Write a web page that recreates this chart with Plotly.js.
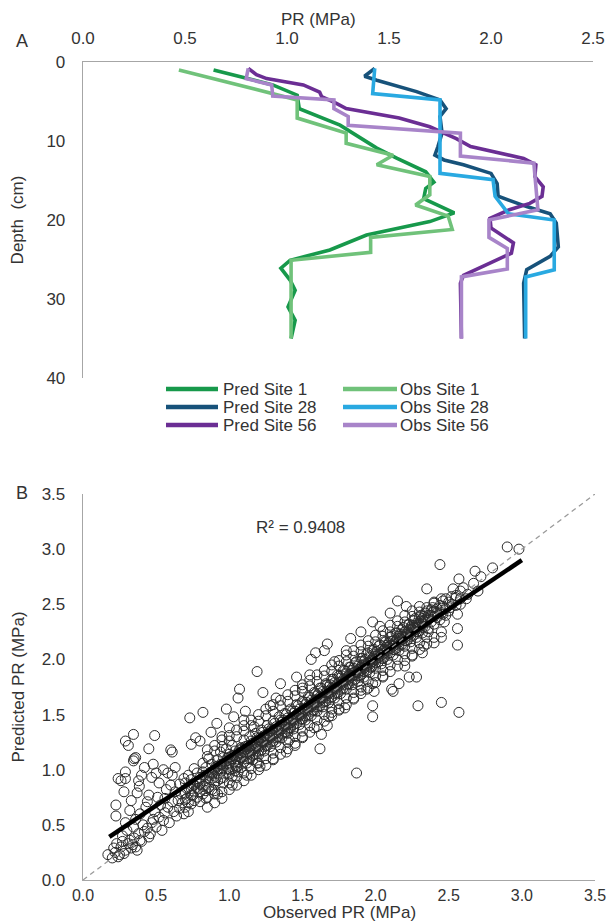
<!DOCTYPE html>
<html><head><meta charset="utf-8">
<script src="https://cdn.plot.ly/plotly-3.0.1.min.js"></script>
<style>html,body{margin:0;padding:0;background:#fff}#chart{width:610px;height:922px}</style>
</head><body><div id="chart"></div>
<script>
// ---------- Panel A : PR profiles (x = PR MPa, y = depth cm) ----------
const predSite1PR    = [0.64,0.93,1.05,1.06,1.26,1.44,1.54,1.68,1.72,1.68,1.67,1.82,1.70,1.39,1.21,1.015,0.97,1.015,1.04,1.005,1.04,1.02];
const predSite1Depth = [1,2.9,4.2,5.9,8.0,10.9,12.2,13.9,15.2,16.0,17.3,19.1,20.2,21.9,23.8,25.1,26.1,27.6,28.9,31,32.7,35];
const obsSite1PR     = [0.47,1.05,1.05,1.29,1.29,1.52,1.44,1.70,1.70,1.63,1.79,1.81,1.41,1.41,1.02,1.02];
const obsSite1Depth  = [1,4.8,7.1,9.0,10.3,11.8,13.0,14.5,16.8,18.1,19.5,21.2,22.2,24.1,25.1,35];
const predSite28PR    = [1.43,1.38,1.44,1.635,1.75,1.78,1.75,1.76,1.74,1.725,1.77,1.865,2.0,2.03,2.035,2.175,2.29,2.32,2.33,2.29,2.175,2.16,2.165];
const predSite28Depth = [0.8,1.8,2.3,3.75,4.8,5.9,6.9,9.0,10.7,11.8,12.4,13.0,14.1,15.4,17.0,18.3,19.2,20.4,23.4,24.6,26.3,28,35];
const obsSite28PR     = [1.43,1.42,1.75,1.75,2.01,2.02,2.085,2.31,2.31,2.17,2.17];
const obsSite28Depth  = [0.8,4.0,4.8,14.1,14.9,17.0,19.2,20.0,26.3,27.2,35];
const predSite56PR    = [0.81,0.85,0.90,1.08,1.16,1.17,1.24,1.29,1.55,1.70,1.83,1.90,2.16,2.22,2.215,2.256,2.25,2.19,2.09,1.995,2.00,2.11,2.10,1.995,1.865,1.85,1.855];
const predSite56Depth = [0.8,1.6,2.1,2.9,3.8,4.4,5.2,5.9,7.1,8.2,9.7,10.7,12.2,13.0,14.5,15.8,17.0,17.9,18.7,19.8,21.0,22.9,24.2,25.5,27.0,28,35];
const obsSite56PR     = [0.81,0.80,0.925,0.93,1.23,1.23,1.30,1.30,1.85,1.85,2.21,2.23,1.99,1.99,2.08,2.08,1.855,1.855];
const obsSite56Depth  = [0.8,2.1,2.9,4.3,4.8,5.9,6.9,8.0,9.0,11.9,12.8,18.7,20.0,22.2,23.6,26.2,27.2,35];

const seriesNames  = ['Pred Site 1','Obs Site 1','Pred Site 28','Obs Site 28','Pred Site 56','Obs Site 56'];
const seriesColors = ['#17994b','#70c27a','#17527a','#29a9e1','#6b2e94','#a884c9'];

const prTicksA    = [0,0.5,1,1.5,2,2.5];
const depthTicks  = [0,10,20,30,40];

// ---------- Panel B : observed vs predicted [observed, predicted] ----------
const lowPoints = [
[0.17,0.23],[0.24,0.21],[0.29,0.27],[0.37,0.27],[0.21,0.29],[0.27,0.35],[0.22,0.25],[0.26,0.30],[0.31,0.33],[0.33,0.29],[0.35,0.38],[0.38,0.42],[0.27,0.40],[0.30,0.45],[0.25,0.23],[0.32,0.36],[0.20,0.20],[0.23,0.33],[0.28,0.24],[0.34,0.32],[0.36,0.30],[0.39,0.36],
[0.225,0.58],[0.225,0.68],[0.24,0.92],[0.29,0.92],[0.29,0.98],[0.29,1.26],[0.345,1.32],[0.36,1.11],[0.345,1.08],[0.385,0.85],[0.37,0.79],[0.45,1.19],[0.49,1.31],[0.48,1.05],[0.50,0.97],[0.45,0.77],[0.44,0.71],[0.32,0.63],[0.29,0.52],[0.345,0.48],[0.42,0.44],[0.40,0.35],[0.45,0.39],[0.50,0.48],[0.48,0.55],[0.56,0.61],[0.58,0.97],[0.61,0.95],[0.60,1.18],[0.61,1.16],[0.69,0.92],[0.66,0.87],[0.64,0.58],[0.66,0.65],[0.56,0.74],[0.61,0.71],
[0.41,0.50],[0.44,0.47],[0.47,0.52],[0.52,0.57],[0.55,0.54],[0.58,0.66],[0.62,0.62],[0.65,0.72],[0.68,0.70],[0.53,0.68],[0.57,0.82],[0.63,0.80],[0.39,0.60],[0.43,0.66],[0.36,0.55],[0.52,0.88],[0.47,0.93],[0.55,1.00],[0.63,1.02],[0.33,0.72],[0.28,0.80],[0.40,0.95],[0.42,1.02],[0.38,0.90],[0.26,0.90],[0.31,1.22],[0.35,1.10],[0.49,0.62],[0.51,0.75],[0.54,0.45],[0.59,0.52],[0.46,0.42],[0.60,0.86],[0.67,0.78],[0.69,0.60]
];
// core band: [observed, [predicted values at that observed level]]
const coreGroups = [
[0.70,[0.66,0.79,0.88,0.73]],[0.72,[0.84,0.70,0.95,0.62]],[0.74,[0.77,0.91,0.69,0.83]],[0.76,[0.72,0.86,1.01,0.80]],[0.78,[0.89,0.75,0.83,0.97]],
[0.80,[0.80,0.93,0.71,0.87]],[0.82,[0.85,0.98,0.78,1.06]],[0.84,[0.90,0.81,1.02,0.74]],[0.86,[0.84,0.95,0.89,1.10]],[0.88,[0.93,0.82,1.05,0.98]],
[0.90,[0.88,1.00,0.94,0.81]],[0.92,[0.97,1.09,0.90,1.03]],[0.94,[0.92,1.05,0.99,1.16]],[0.96,[1.01,0.93,1.11,0.88]],[0.98,[0.97,1.08,1.03,1.19]],
[1.00,[1.05,0.96,1.14,1.00]],[1.02,[1.01,1.10,0.94,1.22]],[1.04,[1.08,0.99,1.17,1.04]],[1.06,[1.03,1.13,1.07,0.98]],[1.08,[1.11,1.02,1.20,1.15]],
[1.10,[1.07,1.16,1.12,1.27]],[1.12,[1.14,1.06,1.21,1.10]],[1.14,[1.10,1.19,1.15,1.30]],[1.16,[1.18,1.09,1.24,1.13]],[1.18,[1.14,1.22,1.19,1.33]],
[1.20,[1.21,1.13,1.27,1.17]],[1.22,[1.18,1.26,1.23,1.36]],[1.24,[1.25,1.17,1.31,1.21]],[1.26,[1.22,1.30,1.27,1.40]],[1.28,[1.29,1.21,1.35,1.25]],
[1.30,[1.26,1.34,1.31,1.44]],[1.32,[1.33,1.25,1.39,1.29]],[1.34,[1.30,1.38,1.35,1.48]],[1.36,[1.37,1.29,1.43,1.33]],[1.38,[1.34,1.42,1.39,1.51]],
[1.40,[1.41,1.33,1.47,1.37]],[1.42,[1.38,1.46,1.43,1.55]],[1.44,[1.45,1.37,1.51,1.41]],[1.46,[1.42,1.50,1.47,1.59]],[1.48,[1.49,1.41,1.55,1.45]],
[1.50,[1.46,1.54,1.51,1.62]],[1.52,[1.53,1.45,1.59,1.49]],[1.54,[1.50,1.58,1.55,1.66]],[1.56,[1.57,1.49,1.63,1.53]],[1.58,[1.54,1.62,1.59,1.70]],
[1.60,[1.61,1.53,1.67,1.57]],[1.62,[1.58,1.66,1.63,1.74]],[1.64,[1.65,1.57,1.71,1.61]],[1.66,[1.62,1.70,1.67,1.78]],[1.68,[1.69,1.61,1.75,1.65]],
[1.70,[1.66,1.74,1.71,1.82]],[1.72,[1.73,1.65,1.79,1.69]],[1.74,[1.70,1.78,1.75,1.86]],[1.76,[1.77,1.69,1.83,1.73]],[1.78,[1.74,1.82,1.79,1.90]],
[1.80,[1.81,1.73,1.87,1.77]],[1.82,[1.78,1.86,1.83,1.93]],[1.84,[1.85,1.77,1.90,1.81]],[1.86,[1.82,1.89,1.86,1.97]],[1.88,[1.88,1.80,1.94,1.85]],
[1.90,[1.86,1.93,1.90,2.01]],[1.92,[1.92,1.84,1.98,1.89]],[1.94,[1.90,1.97,1.94,2.05]],[1.96,[1.96,1.88,2.02,1.93]],[1.98,[1.94,2.01,1.98,2.08]],
[2.00,[2.00,1.92,2.05,1.97]],[2.02,[1.98,2.05,2.02,2.12]],[2.04,[2.04,1.96,2.09,2.01]],[2.06,[2.02,2.09,2.06,2.16]],[2.08,[2.08,2.00,2.13,2.05]],
[2.10,[2.06,2.13,2.10,2.20]],[2.12,[2.12,2.04,2.17,2.09]],[2.14,[2.10,2.17,2.14,2.24]],[2.16,[2.16,2.08,2.21,2.13]],[2.18,[2.14,2.21,2.18,2.27]],
[2.20,[2.20,2.12,2.25,2.17]],[2.22,[2.18,2.25,2.22,2.31]],[2.24,[2.24,2.16,2.29,2.21]],[2.26,[2.22,2.29,2.26,2.35]],[2.28,[2.28,2.20,2.33,2.25]],
[2.30,[2.26,2.33,2.30,2.38]],[2.32,[2.32,2.24,2.37,2.29]],[2.34,[2.30,2.36,2.34,2.42]],[2.36,[2.36,2.28,2.40]],[2.38,[2.34,2.40,2.45]],
[2.40,[2.39,2.32,2.44]],[2.42,[2.38,2.46,2.42]],[2.44,[2.43,2.36,2.49]],[2.46,[2.41,2.48,2.53]],[2.48,[2.46,2.40]],
[2.50,[2.44,2.52]],[2.52,[2.50,2.57]],[2.55,[2.49,2.56]],[2.58,[2.55,2.62]]
];
const coreDense = [
[1.01,[1.06,1.12]],[1.05,[1.10,1.03]],[1.09,[1.13,1.19]],[1.13,[1.16,1.22]],[1.17,[1.20,1.14]],[1.21,[1.24,1.29]],[1.25,[1.28,1.22]],
[1.29,[1.32,1.37]],[1.33,[1.36,1.30]],[1.37,[1.40,1.45]],[1.41,[1.44,1.38]],[1.45,[1.48,1.53]],[1.49,[1.52,1.46]],[1.53,[1.56,1.61]],
[1.57,[1.60,1.54]],[1.61,[1.64,1.69]],[1.65,[1.68,1.62]],[1.69,[1.72,1.77]],[1.73,[1.76,1.70]],[1.77,[1.80,1.85]],[1.81,[1.84,1.78]],
[1.85,[1.88,1.92]],[1.89,[1.91,1.85]],[1.93,[1.95,2.00]],[1.97,[1.99,1.93]],[2.01,[2.03,2.07]],[2.05,[2.07,2.01]],[2.09,[2.11,2.15]],
[2.13,[2.15,2.09]],[2.17,[2.19,2.23]],[2.21,[2.23,2.17]],[2.25,[2.27,2.31]],[2.29,[2.31,2.25]],[2.33,[2.35,2.39]],
[0.71,[0.74,0.83]],[0.75,[0.77,0.87]],[0.79,[0.83,0.90]],[0.83,[0.85,0.95]],[0.87,[0.91,0.97]],[0.91,[0.93,1.03]],[0.95,[0.99,1.05]],[0.99,[1.01,1.11]],
[1.03,[1.07,1.13]],[1.07,[1.09,1.18]],[1.11,[1.15,1.21]],[1.15,[1.17,1.26]],[1.19,[1.23,1.29]],[1.23,[1.25,1.34]],[1.27,[1.31,1.37]],[1.31,[1.33,1.42]],
[1.35,[1.39,1.45]],[1.39,[1.41,1.50]],[1.43,[1.47,1.53]],[1.47,[1.49,1.58]],[1.51,[1.55,1.61]],[1.55,[1.57,1.66]],[1.59,[1.63,1.69]],[1.63,[1.65,1.74]],
[1.67,[1.71,1.77]],[1.71,[1.73,1.82]],[1.75,[1.79,1.85]],[1.79,[1.81,1.90]],[1.83,[1.87,1.93]],[1.87,[1.89,1.98]],[1.91,[1.95,2.01]],[1.95,[1.97,2.06]],
[1.99,[2.03,2.09]],[2.03,[2.05,2.13]],[2.07,[2.11,2.16]],[2.11,[2.13,2.21]],[2.15,[2.19,2.24]],[2.19,[2.21,2.29]],[2.23,[2.27,2.32]],[2.27,[2.29,2.37]],
[2.31,[2.35,2.40]],[2.35,[2.37,2.44]],[2.39,[2.43,2.47]]
];
const coreOuter = [
[0.85,[0.66,1.12,0.75,1.18]],[0.90,[0.70,1.17,1.22,0.78]],[0.95,[0.80,1.21,0.74,1.27]],[1.00,[0.82,1.26,0.88,1.31]],[1.05,[0.86,1.30,0.93,1.36]],
[1.10,[0.90,1.35,0.97,1.40]],[1.15,[0.95,1.40,1.01,1.45]],[1.20,[1.00,1.44,1.06,1.50]],[1.25,[1.04,1.49,1.10,1.55]],[1.30,[1.09,1.53,1.15,1.59]],
[1.35,[1.14,1.58,1.20,1.63]],[1.40,[1.19,1.62,1.25,1.68]],[1.45,[1.24,1.67,1.30,1.72]],[1.50,[1.29,1.71,1.35,1.77]],[1.55,[1.34,1.76,1.40,1.81]],
[1.60,[1.39,1.80,1.45,1.86]],[1.65,[1.44,1.85,1.50,1.90]],[1.70,[1.49,1.89,1.55,1.95]],[1.75,[1.54,1.94,1.60,1.99]],[1.80,[1.59,1.98,1.65,2.04]],
[1.85,[1.64,2.03,1.70,2.08]],[1.90,[1.69,2.07,1.75,2.13]],[1.95,[1.74,2.12,1.80,2.17]],[2.00,[1.79,2.16,1.85,2.22]],[2.05,[1.84,2.21,1.90,2.26]],
[2.10,[1.89,2.25,1.95,2.31]],[2.15,[1.94,2.30,2.00,2.35]],[2.20,[1.99,2.34,2.05,2.40]],[2.25,[2.04,2.39,2.10,2.44]],[2.30,[2.09,2.43,2.15,2.48]],
[2.35,[2.14,2.47,2.20]],[2.40,[2.20,2.51]],[2.45,[2.25,2.55]]
];
const midScatter = [
[0.73,1.47],[0.82,1.52],[0.875,1.34],[0.77,1.29],[0.74,1.23],[0.80,1.26],[0.915,1.42],[0.98,1.55],[1.03,1.48],[1.06,1.65],[1.11,1.53],[1.17,1.39],[1.19,1.06],[1.21,1.03],[1.14,1.11],[1.39,1.16],[1.41,1.27],[1.39,1.34],[1.62,1.19],[1.63,1.32],[1.67,1.40],[1.68,1.48],[1.79,1.56],[1.98,1.48],[1.98,1.58],[1.87,0.97],[2.29,1.58],[2.45,1.61],[2.57,1.52],[2.12,1.71],[1.99,1.71],
[1.19,1.89],[1.07,1.73],[1.23,1.70],[1.35,1.78],[1.46,1.84],[1.59,2.06],[1.65,2.08],[1.56,2.00],[1.67,2.14],[1.83,2.19],[1.90,2.25],[1.98,2.34],[2.03,2.30],[2.10,2.42],[2.15,2.53],[2.21,2.48],
[2.56,2.41],[2.56,2.28],[2.56,2.13],[2.45,2.20],[2.32,2.06],[2.33,2.12],[2.25,2.03],[2.20,1.94],[2.23,1.84],[2.16,1.78],[2.11,1.73],[2.28,1.84],[1.98,1.78],[1.94,1.73],[2.36,2.25],[2.47,2.34],
[0.95,1.30],[1.00,1.38],[1.10,1.45],[1.28,1.58],[1.32,1.65],[1.50,1.74],[1.55,1.86],[1.72,1.98],[1.80,2.08],[1.30,1.10],[1.50,1.30],[1.58,1.38],[1.75,1.55],[1.85,1.65],[2.05,1.85],[1.12,0.95],[0.92,0.78],[1.02,0.86],[1.45,1.22],[1.70,1.52],[1.90,1.72],[2.40,2.15]
];
const highPoints = [
[2.90,3.02],[2.98,3.00],[2.44,2.86],[2.80,2.83],[2.68,2.80],[2.57,2.73],[2.35,2.64],[2.67,2.69],[2.53,2.64],[2.72,2.75],[2.60,2.65],[2.55,2.58],[2.62,2.55],[2.51,2.47],[2.63,2.59],[2.48,2.55],[2.40,2.52],[2.58,2.50],[2.70,2.62],[2.45,2.42]
];
const trendObs  = [0.18, 3.00];
const trendPred = [0.39, 2.90];
const oneToOne  = [0, 3.5];
const prTicksB  = [0,0.5,1,1.5,2,2.5,3,3.5];
const r2Text = 'R² = 0.9408';

// ---------- build ----------
const scatterPairs = lowPoints.concat(midScatter, highPoints);
coreGroups.concat(coreDense, coreOuter).forEach(g => g[1].forEach(p => scatterPairs.push([g[0], p])));
const obsPR  = scatterPairs.map(p => p[0]);
const predPR = scatterPairs.map(p => p[1]);

const profX = [predSite1PR, obsSite1PR, predSite28PR, obsSite28PR, predSite56PR, obsSite56PR];
const profY = [predSite1Depth, obsSite1Depth, predSite28Depth, obsSite28Depth, predSite56Depth, obsSite56Depth];
const drawOrder = [0,2,4,1,3,5];

const traces = drawOrder.map(i => ({
  type:'scatter', mode:'lines', name:seriesNames[i], x:profX[i], y:profY[i],
  xaxis:'x', yaxis:'y', line:{color:seriesColors[i], width:3.6}, showlegend:false, hoverinfo:'skip'
}));
traces.push({type:'scatter', mode:'markers', name:'Observed vs predicted', x:obsPR, y:predPR, xaxis:'x2', yaxis:'y2',
  marker:{symbol:'circle-open', size:10, color:'#2b2b2b', line:{width:1.0}}, showlegend:false, hoverinfo:'skip'});
traces.push({type:'scatter', mode:'lines', name:'Linear trend', x:trendObs, y:trendPred, xaxis:'x2', yaxis:'y2',
  line:{color:'#000', width:4.5}, showlegend:false, hoverinfo:'skip'});
traces.push({type:'scatter', mode:'lines', name:'1:1', x:oneToOne, y:oneToOne, xaxis:'x2', yaxis:'y2',
  line:{color:'#9a9a9a', width:1.3, dash:'5px,4px'}, showlegend:false, hoverinfo:'skip'});

// pixel -> paper helpers (margins l=83, t=62, plot 512 x 824)
const L=83, T=62, W=512, H=824;
const px = v => (v - L) / W;
const py = v => (T + H - v) / H;

const axisBase = {showline:true, linecolor:'#a6a6a6', linewidth:1.3, showgrid:false, zeroline:false, ticks:'',
  tickfont:{size:17, color:'#333'}};
const fmt = a => a.map(v => v.toFixed(1));

const legendRows = [389, 407, 425];
const shapes = [], annotations = [];
[[0,1],[2,3],[4,5]].forEach((pair, r) => {
  pair.forEach((si, c) => {
    const x0 = c === 0 ? 166 : 343, x1 = c === 0 ? 218 : 397, tx = c === 0 ? 221 : 398;
    shapes.push({type:'line', xref:'paper', yref:'paper', x0:px(x0), x1:px(x1), y0:py(legendRows[r]), y1:py(legendRows[r]),
      line:{color:seriesColors[si], width:4.5}});
    annotations.push({xref:'paper', yref:'paper', x:px(tx), y:py(legendRows[r]), xanchor:'left', yanchor:'middle',
      text:seriesNames[si], showarrow:false, font:{size:17, color:'#333'}});
  });
});
annotations.push({xref:'paper', yref:'paper', x:px(22), y:py(41), xanchor:'center', yanchor:'middle', text:'A', showarrow:false, font:{size:18, color:'#333'}});
annotations.push({xref:'paper', yref:'paper', x:px(22), y:py(493), xanchor:'center', yanchor:'middle', text:'B', showarrow:false, font:{size:18, color:'#333'}});
annotations.push({xref:'paper', yref:'paper', x:px(318), y:py(20), xanchor:'center', yanchor:'middle', text:'PR (MPa)', showarrow:false, font:{size:17, color:'#333'}});
annotations.push({xref:'paper', yref:'paper', x:px(339), y:py(912), xanchor:'center', yanchor:'middle', text:'Observed PR (MPa)', showarrow:false, font:{size:17, color:'#333'}});
annotations.push({xref:'x2', yref:'y2', x:1.49, y:3.2, xanchor:'center', yanchor:'middle', text:r2Text, showarrow:false, font:{size:17, color:'#333'}});

const layout = {
  width:610, height:922, margin:{l:L, r:15, t:T, b:36},
  paper_bgcolor:'#fff', plot_bgcolor:'#fff',
  font:{family:'"Liberation Sans", Arial, sans-serif', size:17, color:'#333'},
  showlegend:false,
  xaxis:Object.assign({}, axisBase, {domain:[0, px(593)], anchor:'y', side:'top', range:[0,2.5],
    tickvals:prTicksA, ticktext:fmt(prTicksA), ticklabelstandoff:10}),
  yaxis:Object.assign({}, axisBase, {domain:[py(378), 1], anchor:'x', range:[40,0],
    tickvals:depthTicks, ticktext:depthTicks.map(String), ticklabelstandoff:13,
    title:{text:'Depth\u00a0 (cm)', standoff:18, font:{size:17, color:'#333'}}}),
  xaxis2:Object.assign({}, axisBase, {domain:[0,1], anchor:'y2', range:[0,3.5],
    tickvals:prTicksB, ticktext:fmt(prTicksB), ticklabelstandoff:0, tickfont:{size:16, color:'#333'}}),
  yaxis2:Object.assign({}, axisBase, {domain:[py(880), py(494)], anchor:'x2', range:[0,3.5],
    tickvals:prTicksB, ticktext:fmt(prTicksB), ticklabelstandoff:13,
    title:{text:'Predicted PR (MPa)', standoff:12, font:{size:17, color:'#333'}}}),
  shapes:shapes, annotations:annotations
};

Plotly.newPlot('chart', traces, layout, {displayModeBar:false, staticPlot:true});
</script></body></html>
